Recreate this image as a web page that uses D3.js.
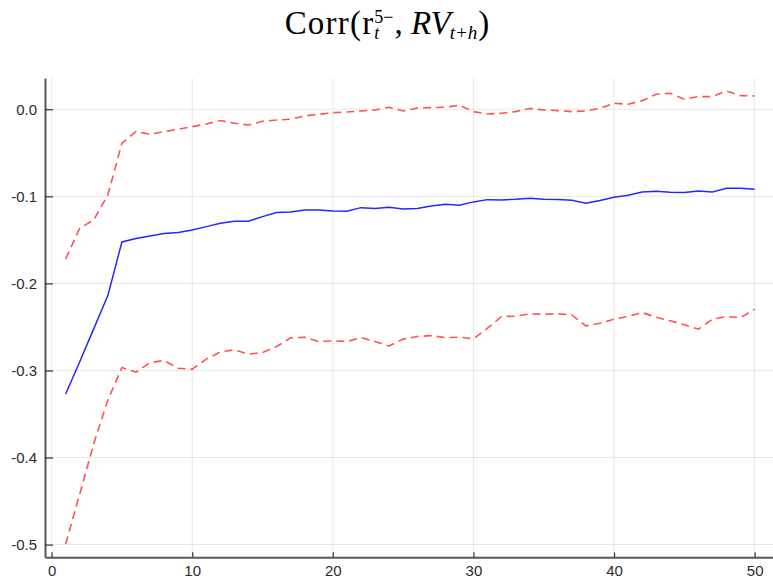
<!DOCTYPE html>
<html>
<head>
<meta charset="utf-8">
<script src="https://cdn.jsdelivr.net/npm/d3@7"></script>
<style>
  body { margin: 0; background: #fff; }
  svg { display: block; }
</style>
</head>
<body>
<div id="chartplace"></div>
<script>
// horizons h = 1..50
var horizons = [1, 2, 3, 4, 5, 6, 7, 8, 9, 10, 11, 12, 13, 14, 15, 16, 17, 18, 19, 20,
  21, 22, 23, 24, 25, 26, 27, 28, 29, 30, 31, 32, 33, 34, 35, 36, 37, 38, 39, 40,
  41, 42, 43, 44, 45, 46, 47, 48, 49, 50];

// point estimate (blue)
var corr = [-0.327, -0.290, -0.252, -0.214, -0.1524, -0.1485, -0.1455, -0.1428, -0.1416, -0.1386,
  -0.1348, -0.1310, -0.1286, -0.1286, -0.1233, -0.1187, -0.1180, -0.1156, -0.1156, -0.1168,
  -0.1172, -0.1130, -0.1141, -0.1126, -0.1145, -0.1141, -0.1110, -0.1091, -0.1103, -0.1064,
  -0.1038, -0.1041, -0.1034, -0.1022, -0.1034, -0.1037, -0.1045, -0.1080, -0.1049, -0.1010,
  -0.0988, -0.0950, -0.0942, -0.0953, -0.0957, -0.0938, -0.0950, -0.0907, -0.0907, -0.0918];

// upper band (red dashed)
var upper = [-0.172, -0.1366, -0.127, -0.0984, -0.039, -0.0257, -0.0287, -0.0257, -0.023, -0.020,
  -0.0169, -0.013, -0.0161, -0.018, -0.0138, -0.0123, -0.0115, -0.0077, -0.0058, -0.0039,
  -0.0031, -0.002, -0.0008, 0.0023, -0.002, 0.0015, 0.0019, 0.0023, 0.0046, -0.0027,
  -0.0054, -0.0046, -0.0027, 0.0009, -0.0008, -0.0016, -0.0027, -0.002, 0.0011, 0.0069,
  0.0057, 0.0099, 0.0172, 0.0184, 0.0115, 0.0145, 0.0145, 0.021, 0.0156, 0.0153];

// lower band (red dashed)
var lower = [-0.4994, -0.442, -0.384, -0.334, -0.2966, -0.302, -0.291, -0.2886, -0.2974, -0.2985,
  -0.287, -0.2787, -0.2763, -0.2813, -0.2794, -0.2725, -0.2626, -0.2618, -0.2668, -0.266,
  -0.2668, -0.2622, -0.2668, -0.2718, -0.264, -0.261, -0.26, -0.2622, -0.2618, -0.2637,
  -0.2515, -0.238, -0.2377, -0.235, -0.2354, -0.235, -0.2362, -0.2488, -0.2457, -0.2411,
  -0.238, -0.2335, -0.2388, -0.243, -0.2476, -0.2526, -0.2411, -0.238, -0.2393, -0.2296];

var xTicks = [0, 10, 20, 30, 40, 50];
var yTicks = [0.0, -0.1, -0.2, -0.3, -0.4, -0.5];

var svgWidth = 773;
var svgHeight = 583;

var svg = d3.select("#chartplace").append("svg")
  .attr("width", svgWidth)
  .attr("height", svgHeight);

var x = d3.scaleLinear().domain([-0.47, 51.47]).range([45, 775.3]);
var y = d3.scaleLinear().domain([-0.5146, 0.0359]).range([557.3, 78]);

// grid
svg.append("g").selectAll("line.gx")
  .data(xTicks).enter().append("line")
  .attr("x1", function(d){ return x(d); })
  .attr("x2", function(d){ return x(d); })
  .attr("y1", y.range()[1]).attr("y2", y.range()[0])
  .attr("stroke", "#000").attr("stroke-opacity", 0.09).attr("stroke-width", 1);
svg.append("g").selectAll("line.gy")
  .data(yTicks).enter().append("line")
  .attr("x1", x.range()[0]).attr("x2", x.range()[1])
  .attr("y1", function(d){ return y(d); })
  .attr("y2", function(d){ return y(d); })
  .attr("stroke", "#000").attr("stroke-opacity", 0.09).attr("stroke-width", 1);

// series
var line = d3.line()
  .x(function(d, i){ return x(horizons[i]); })
  .y(function(d){ return y(d); });

svg.append("path")
  .attr("d", line(corr))
  .attr("fill", "none")
  .attr("stroke", "#0000ff")
  .attr("stroke-opacity", 0.85)
  .attr("stroke-width", 1.5);

[upper, lower].forEach(function(band){
  svg.append("path")
    .attr("d", line(band))
    .attr("fill", "none")
    .attr("stroke", "#ff0000")
    .attr("stroke-opacity", 0.68)
    .attr("stroke-width", 1.6)
    .attr("stroke-dasharray", "8,5");
});

// axes (ticks point inward)
var yAxis = d3.axisLeft(y)
  .tickValues(yTicks)
  .tickFormat(function(d){ return d.toFixed(1); })
  .tickSizeInner(-8).tickSizeOuter(0).tickPadding(8);
var xAxis = d3.axisBottom(x)
  .tickValues(xTicks)
  .tickFormat(function(d){ return d; })
  .tickSizeInner(-5).tickSizeOuter(0).tickPadding(8);

var gy = svg.append("g").attr("transform", "translate(" + x.range()[0] + ",0)").call(yAxis);
var gx = svg.append("g").attr("transform", "translate(0," + y.range()[0] + ")").call(xAxis);

[gx, gy].forEach(function(g){
  g.select(".domain").attr("stroke", "#595959").attr("stroke-width", 2);
  g.selectAll(".tick line").attr("stroke", "#333").attr("stroke-width", 1.2);
  g.selectAll(".tick text")
    .attr("fill", "#2b2b2b")
    .style("font-family", "'Liberation Sans', Arial, sans-serif")
    .style("font-size", "15px");
});

// title: Corr(r_t^{5-}, RV_{t+h})
var title = svg.append("text")
  .attr("x", 0).attr("y", 33.5)
  .style("font-family", "'Liberation Serif', 'Times New Roman', serif")
  .style("font-size", "33px")
  .attr("fill", "#000");
title.append("tspan").text("Corr(r").style("letter-spacing", "1.2px");
var sub1 = title.append("tspan").text("t")
  .style("font-style", "italic").style("font-size", "18px").attr("dy", 5);
var subW = sub1.node().getComputedTextLength();
title.append("tspan").text("5\u2212")
  .style("font-size", "18px").attr("dx", -subW).attr("dy", -15.5);
title.append("tspan").text(", ").attr("dy", 10.5).attr("dx", 1);
title.append("tspan").text("RV").style("font-style", "italic");
title.append("tspan").text("t+h")
  .style("font-style", "italic").style("font-size", "19px").attr("dy", 5).attr("dx", -1);
title.append("tspan").text(")").attr("dy", -5).attr("dx", 1);

var tb = title.node().getBBox();
title.attr("x", 387 - tb.width / 2);
</script>
</body>
</html>
